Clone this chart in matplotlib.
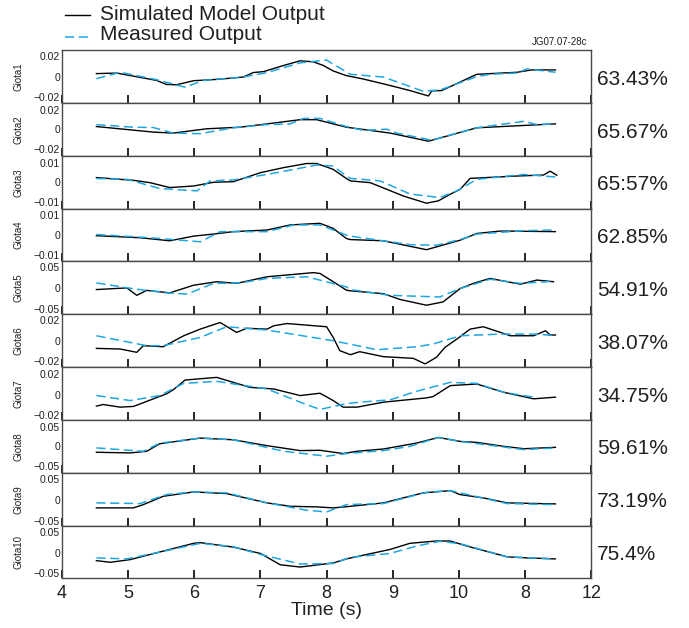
import matplotlib.pyplot as plt
from matplotlib.lines import Line2D

plt.rcParams['font.family'] = ['Liberation Sans', 'DejaVu Sans']

# Подписи оси времени (как на исходном рисунке)
x_ticks = [4, 5, 6, 7, 8, 9, 10, 11, 12]
x_tick_labels = ['4', '5', '6', '7', '8', '9', '10', '8', '12']

channels = ['Giota1', 'Giota2', 'Giota3', 'Giota4', 'Giota5',
            'Giota6', 'Giota7', 'Giota8', 'Giota9', 'Giota10']
fit_labels = ['63.43%', '65.67%', '65:57%', '62.85%', '54.91%',
              '38.07%', '34.75%', '59.61%', '73.19%', '75.4%']
tick_steps = [0.02, 0.02, 0.01, 0.01, 0.05, 0.02, 0.02, 0.05, 0.05, 0.05]
tick_texts = ['0.02', '0.02', '0.01', '0.01', '0.05', '0.02', '0.02', '0.05', '0.05', '0.05']

# Модель (чёрная) и измерения (синяя) — пары (время, значение)
giota1_sim = [(4.52, 0.003), (4.83, 0.0035), (5.43, -0.0037), (5.58, -0.0077), (5.73, -0.008), (5.99, -0.004),
              (6.34, -0.0027), (6.74, -0.0004), (6.89, 0.004), (7.05, 0.005), (7.35, 0.011), (7.6, 0.0156),
              (7.8, 0.0146), (7.95, 0.011), (8.1, 0.0056), (8.3, 0.001), (8.56, -0.0024), (8.96, -0.0087),
              (9.26, -0.0137), (9.54, -0.019), (9.59, -0.014), (9.74, -0.0137), (10.27, 0.0023), (10.88, 0.0043),
              (11.1, 0.0066), (11.46, 0.0066)]
giota1_meas = [(4.52, -0.002), (4.88, 0.0043), (5.43, -0.003), (5.86, -0.0104), (6.14, -0.0037), (6.74, -0.0004),
               (7.1, 0.004), (7.6, 0.0136), (8.0, 0.0163), (8.3, 0.0046), (8.36, 0.0023), (8.86, -0.0004),
               (9.46, -0.0144), (9.72, -0.013), (10.27, 0.0), (10.47, 0.0023), (10.88, 0.0036), (11.03, 0.0076),
               (11.46, 0.0043)]

giota2_sim = [(4.52, 0.003), (5.38, -0.0027), (5.68, -0.0037), (6.19, 0.0007), (6.69, 0.0023), (7.1, 0.0057),
              (7.6, 0.01), (7.85, 0.01), (8.3, 0.0023), (8.96, -0.0037), (9.54, -0.012), (10.27, 0.0017),
              (11.46, 0.0057)]
giota2_meas = [(4.52, 0.005), (5.08, 0.0023), (5.38, 0.002), (5.68, -0.0037), (6.09, -0.0043), (6.59, 0.0017),
               (7.1, 0.005), (7.45, 0.0057), (7.65, 0.0113), (7.9, 0.0113), (8.3, 0.003), (8.56, -0.001),
               (8.91, 0.0003), (9.06, -0.0037), (9.59, -0.011), (10.27, 0.0017), (10.98, 0.0083), (11.18, 0.005),
               (11.46, 0.0057)]

giota3_sim = [(4.52, 0.0024), (5.08, 0.001), (5.33, -0.0002), (5.63, -0.0027), (5.99, -0.0019), (6.29, 0.0),
              (6.59, 0.0003), (7.0, 0.0049), (7.35, 0.0075), (7.7, 0.0096), (7.85, 0.0096), (8.1, 0.0066),
              (8.3, 0.0019), (8.36, 0.0007), (8.66, -0.0002), (9.16, -0.007), (9.31, -0.0086), (9.51, -0.0107),
              (9.69, -0.0095), (9.87, -0.0061), (10.02, -0.0036), (10.17, 0.002), (10.88, 0.0032), (11.28, 0.0037),
              (11.38, 0.0057), (11.48, 0.0036)]
giota3_meas = [(4.52, 0.0019), (4.98, 0.0015), (5.48, -0.0032), (6.04, -0.0044), (6.24, 0.0007), (6.59, 0.0012),
               (7.1, 0.004), (7.85, 0.0088), (8.1, 0.0083), (8.3, 0.0032), (8.36, 0.002), (8.81, 0.0007),
               (9.26, -0.006), (9.71, -0.0078), (9.97, -0.0044), (10.27, 0.0015), (10.98, 0.004), (11.46, 0.0027)]

giota4_sim = [(4.52, -0.0003), (5.18, -0.0013), (5.63, -0.0028), (5.99, -0.0005), (6.29, 0.0005), (6.59, 0.0017),
              (7.1, 0.0025), (7.45, 0.005), (7.9, 0.0058), (8.1, 0.0033), (8.3, -0.0017), (8.36, -0.0022),
              (8.86, -0.0028), (9.51, -0.0072), (10.02, -0.0025), (10.27, 0.0008), (10.63, 0.002), (11.46, 0.0017)]
giota4_meas = [(4.52, 0.0003), (5.33, -0.0013), (6.09, -0.0033), (6.39, 0.0017), (7.1, 0.0017), (7.5, 0.005),
               (7.9, 0.005), (8.3, 0.0), (8.36, -0.0005), (9.26, -0.0047), (9.66, -0.005), (10.02, -0.0022),
               (10.27, 0.0005), (10.98, 0.0022), (11.46, 0.0025)]

giota5_sim = [(4.52, -0.004), (4.98, 0.0), (5.13, -0.018), (5.28, -0.006), (5.63, -0.012), (5.99, 0.0065),
              (6.34, 0.015), (6.64, 0.011), (7.1, 0.027), (7.8, 0.037), (7.9, 0.035), (8.1, 0.015), (8.3, -0.0055),
              (8.36, -0.007), (8.86, -0.014), (9.11, -0.028), (9.51, -0.042), (9.76, -0.034), (10.02, -0.0015),
              (10.22, 0.011), (10.47, 0.023), (10.93, 0.009), (11.18, 0.019), (11.43, 0.015)]
giota5_meas = [(4.52, 0.012), (5.08, -0.002), (5.58, -0.012), (5.89, -0.015), (6.29, 0.011), (6.69, 0.012),
               (7.1, 0.023), (7.7, 0.027), (8.3, 0.0025), (8.36, -0.004), (8.96, -0.018), (9.71, -0.022),
               (10.02, -0.0015), (10.47, 0.021), (10.93, 0.011), (11.43, 0.016)]

giota6_sim = [(4.52, -0.0074), (4.88, -0.008), (5.13, -0.0112), (5.23, -0.0048), (5.53, -0.0058), (5.84, 0.0048),
              (6.09, 0.0112), (6.39, 0.0176), (6.64, 0.008), (6.79, 0.012), (7.1, 0.0112), (7.2, 0.0144),
              (7.4, 0.0166), (8.0, 0.0135), (8.1, 0.0032), (8.2, -0.0096), (8.36, -0.0135), (8.5, -0.0106),
              (8.86, -0.0154), (9.31, -0.017), (9.49, -0.0224), (9.66, -0.016), (9.79, -0.0064), (9.97, 0.0016),
              (10.17, 0.0112), (10.37, 0.0135), (10.78, 0.0048), (11.13, 0.0048), (11.31, 0.0096), (11.38, 0.0055),
              (11.46, 0.0055)]
giota6_meas = [(4.52, 0.0048), (5.28, -0.0048), (5.53, -0.0048), (6.09, 0.0032), (6.49, 0.0135), (7.1, 0.0103),
               (8.1, 0.0), (8.76, -0.0087), (9.36, -0.0058), (9.61, -0.0032), (10.02, 0.0048), (10.63, 0.0064),
               (11.18, 0.0064), (11.46, 0.0048)]

giota7_sim = [(4.52, -0.0114), (4.62, -0.0098), (4.88, -0.0124), (5.08, -0.0117), (5.58, 0.0007), (5.68, 0.0046),
              (5.86, 0.0143), (6.34, 0.0169), (6.84, 0.0071), (7.2, 0.0055), (7.6, -0.001), (7.9, 0.0013),
              (8.1, -0.0059), (8.25, -0.0124), (8.46, -0.0124), (8.86, -0.0075), (9.51, -0.0033), (9.61, -0.002),
              (9.87, 0.0088), (10.27, 0.0104), (10.68, 0.0022), (11.13, -0.0042), (11.46, -0.0026)]
giota7_meas = [(4.52, -0.001), (5.03, -0.0059), (5.48, -0.001), (5.84, 0.011), (6.34, 0.013), (7.1, 0.0055),
               (7.6, -0.0075), (7.9, -0.0146), (8.3, -0.009), (8.5, -0.0075), (8.96, -0.0052), (9.36, 0.0032),
               (9.87, 0.012), (10.27, 0.011), (10.68, 0.0022), (11.13, -0.0026)]

giota8_sim = [(4.52, -0.015), (5.03, -0.0167), (5.28, -0.0125), (5.48, 0.0067), (6.09, 0.021), (6.59, 0.0167),
              (7.1, 0.0017), (7.6, -0.0108), (7.9, -0.01), (8.25, -0.0183), (8.46, -0.0125), (8.86, -0.0067),
              (9.36, 0.0083), (9.69, 0.0225), (10.02, 0.0125), (10.27, 0.01), (10.68, 0.0), (10.98, -0.006),
              (11.46, -0.0025)]
giota8_meas = [(4.52, -0.004), (5.23, -0.0125), (5.48, 0.0083), (6.09, 0.021), (6.59, 0.0167), (7.35, -0.0125),
               (8.0, -0.025), (8.3, -0.0183), (8.86, -0.0108), (9.26, 0.0), (9.69, 0.0225), (10.02, 0.0125),
               (10.98, -0.0083), (11.46, -0.004)]

giota9_sim = [(4.52, -0.0198), (5.08, -0.0198), (5.23, -0.012), (5.53, 0.0079), (5.99, 0.0183), (6.49, 0.0143),
              (7.1, -0.0079), (7.45, -0.016), (7.85, -0.0174), (8.1, -0.0198), (8.3, -0.017), (8.86, -0.0079),
              (9.46, 0.016), (9.87, 0.0214), (10.02, 0.0119), (10.37, 0.004), (10.73, -0.0079), (11.46, -0.0103)]
giota9_meas = [(4.52, -0.0079), (5.18, -0.0095), (5.58, 0.0119), (5.99, 0.0183), (6.49, 0.016), (7.1, -0.0079),
               (7.7, -0.0254), (8.0, -0.0294), (8.3, -0.012), (8.86, -0.0095), (9.51, 0.0175), (9.87, 0.0214),
               (10.73, -0.0095), (11.46, -0.012)]

giota10_sim = [(4.52, -0.019), (4.73, -0.023), (5.03, -0.0165), (5.43, 0.0), (5.99, 0.023), (6.09, 0.0246),
               (6.59, 0.0138), (7.0, -0.0016), (7.3, -0.029), (7.6, -0.0345), (8.1, -0.0246), (8.3, -0.0148),
               (8.96, 0.0082), (9.26, 0.023), (9.66, 0.0286), (9.87, 0.0286), (10.12, 0.0164), (10.73, -0.0098),
               (11.03, -0.0123), (11.46, -0.0148)]
giota10_meas = [(4.52, -0.0123), (4.98, -0.0148), (5.43, 0.0), (6.09, 0.023), (6.59, 0.0148), (7.0, -0.004),
                (7.6, -0.027), (8.1, -0.026), (8.36, -0.0108), (8.96, -0.0016), (9.36, 0.0164), (9.71, 0.0279),
                (10.02, 0.022), (10.73, -0.0098), (11.46, -0.0148)]

sim_series = [giota1_sim, giota2_sim, giota3_sim, giota4_sim, giota5_sim,
              giota6_sim, giota7_sim, giota8_sim, giota9_sim, giota10_sim]
meas_series = [giota1_meas, giota2_meas, giota3_meas, giota4_meas, giota5_meas,
               giota6_meas, giota7_meas, giota8_meas, giota9_meas, giota10_meas]

# Пределы по вертикали для каждой панели
y_limits = [(-0.026, 0.026), (-0.027, 0.027), (-0.0135, 0.0135), (-0.013, 0.013), (-0.064, 0.064),
            (-0.0255, 0.0255), (-0.025, 0.027), (-0.067, 0.067), (-0.062, 0.064), (-0.062, 0.066)]

BLUE = '#1ea7e1'
SPINE = '#4a4a4a'
TEXT = '#231f20'

fig = plt.figure(figsize=(6.89, 6.28), dpi=100)
axes = fig.subplots(10, 1, sharex=True)
fig.subplots_adjust(left=0.09, right=0.858, top=0.920, bottom=0.079, hspace=0)

for i, ax in enumerate(axes):
    st, sy = zip(*sim_series[i])
    mt, my = zip(*meas_series[i])
    ax.plot(st, sy, color='black', lw=1.0)
    ax.plot(mt, my, color=BLUE, lw=1.1, dashes=(6, 3))
    ax.set_xlim(4, 12)
    ax.set_ylim(*y_limits[i])
    s = tick_steps[i]
    ax.set_yticks([-s, 0, s])
    ax.set_yticklabels(['\u2212' + tick_texts[i], '0', tick_texts[i]])
    ax.set_xticks(x_ticks)
    ax.tick_params(axis='y', length=0, pad=1.5, labelsize=7.5, labelcolor=TEXT)
    ax.tick_params(axis='x', direction='in', length=6, width=1.2, color='black',
                   pad=5, labelsize=13, labelcolor=TEXT)
    for sp in ax.spines.values():
        sp.set_color(SPINE)
        sp.set_linewidth(1.0)
    ax.set_ylabel(channels[i], fontsize=7, color=TEXT)
    ax.yaxis.set_label_coords(-0.072, 0.5)
    ax.text(1.011, 0.45, fit_labels[i], transform=ax.transAxes, ha='left', va='center',
            fontsize=15, color=TEXT)

axes[-1].set_xticklabels(x_tick_labels)
axes[-1].set_xlabel('Time (s)', fontsize=14, color=TEXT, labelpad=0)

# Легенда вверху слева
fig.add_artist(Line2D([65 / 689, 90 / 689], [1 - 15 / 628, 1 - 15 / 628],
                      transform=fig.transFigure, color='black', lw=1.0))
fig.add_artist(Line2D([65 / 689, 90 / 689], [1 - 37 / 628, 1 - 37 / 628],
                      transform=fig.transFigure, color=BLUE, lw=1.1, dashes=(6, 3)))
fig.text(100 / 689, 1 - 15 / 628, 'Simulated Model Output', ha='left', va='center',
         fontsize=15, color=TEXT)
fig.text(100 / 689, 1 - 35 / 628, 'Measured Output', ha='left', va='center',
         fontsize=15, color=TEXT)
fig.text(587 / 689, 1 - 42 / 628, 'JG07.07-28c', ha='right', va='center',
         fontsize=7, color=TEXT)

plt.savefig('out.png', dpi=100)
